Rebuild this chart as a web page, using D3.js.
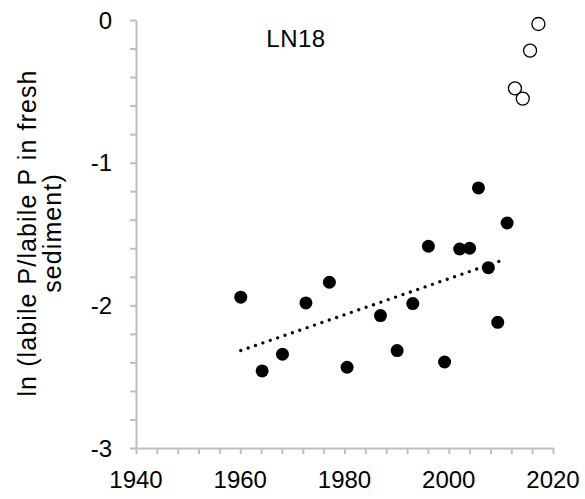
<!DOCTYPE html>
<html>
<head>
<meta charset="utf-8">
<script src="https://cdn.jsdelivr.net/npm/d3@7"></script>
<style>
  html, body { margin: 0; padding: 0; background: #fff; }
  svg { display: block; font-family: "Liberation Sans", Arial, sans-serif; }
</style>
</head>
<body>
<svg id="chart" width="585" height="499"></svg>
<script>
// ---- data ----
const filledYears  = [1960.1, 1964.2, 1968.1, 1972.6, 1977.1, 1980.5, 1986.9, 1990.1, 1993.1, 1996.1, 1999.2, 2002.1, 2004.0, 2005.7, 2007.6, 2009.4, 2011.2];
const filledValues = [-1.943, -2.460, -2.343, -1.983, -1.838, -2.434, -2.072, -2.317, -1.988, -1.586, -2.397, -1.605, -1.600, -1.177, -1.736, -2.119, -1.423];
const openYears    = [2012.7, 2014.2, 2015.6, 2017.2];
const openValues   = [-0.479, -0.551, -0.215, -0.028];
const trendYears   = [1960.1, 2009.7];
const trendValues  = [-2.317, -1.691];
const xTickLabels  = [1940, 1960, 1980, 2000, 2020];
const yTickLabels  = [0, -1, -2, -3];
const title = "LN18";
const yTitleLines = ["ln (labile P/labile P in fresh", "sediment)"];

// ---- layout ----
const svg = d3.select("#chart");
const x = d3.scaleLinear().domain([1940, 2020]).range([136, 553]);
const y = d3.scaleLinear().domain([-3, 0]).range([448, 20]);
const axisColor = "#bfbfbf";

// minor ticks (every 4 years / 0.2 units)
const xMinor = d3.range(1940, 2020.001, 4);
const yMinor = d3.range(0, 15.5, 1).map(i => -3 + i * 0.2);

const gx = svg.append("g").attr("transform", `translate(0,${y(-3)})`)
  .call(d3.axisBottom(x).tickValues(xMinor).tickSize(6).tickSizeOuter(0).tickFormat(""));
const gy = svg.append("g").attr("transform", `translate(${x(1940)},0)`)
  .call(d3.axisLeft(y).tickValues(yMinor).tickSize(6).tickSizeOuter(0).tickFormat(""));
[gx, gy].forEach(g => {
  g.select(".domain").attr("stroke", axisColor).attr("stroke-width", 2);
  g.selectAll(".tick line").attr("stroke", axisColor).attr("stroke-width", 2);
});

// tick labels
svg.append("g").selectAll("text").data(xTickLabels).join("text")
  .attr("x", d => x(d)).attr("y", 488)
  .attr("text-anchor", "middle").attr("font-size", 24).attr("fill", "#000")
  .text(d => d);
svg.append("g").selectAll("text").data(yTickLabels).join("text")
  .attr("x", 112).attr("y", d => y(d)).attr("dy", "0.36em")
  .attr("text-anchor", "end").attr("font-size", 24).attr("fill", "#000")
  .text(d => d === 0 ? "0" : "-" + Math.abs(d));

// y title
const yt = svg.append("text")
  .attr("transform", `translate(0,233) rotate(-90)`)
  .attr("text-anchor", "middle").attr("font-size", 25).attr("letter-spacing", 1.1).attr("fill", "#000");
yTitleLines.forEach((t, i) => {
  yt.append("tspan").attr("x", 0).attr("y", 36 + i * 25).text(t);
});

// chart title
svg.append("text").attr("x", 296).attr("y", 47).attr("text-anchor", "middle")
  .attr("font-size", 24).attr("letter-spacing", 0.5).attr("fill", "#000").text(title);

// trend line (dotted)
const line = d3.line().x(d => x(d[0])).y(d => y(d[1]));
svg.append("path")
  .attr("d", line(d3.zip(trendYears, trendValues)))
  .attr("fill", "none").attr("stroke", "#000").attr("stroke-width", 3.4)
  .attr("stroke-linecap", "round").attr("stroke-dasharray", "0 7.8");

// points
svg.append("g").selectAll("circle").data(d3.zip(filledYears, filledValues)).join("circle")
  .attr("cx", d => x(d[0])).attr("cy", d => y(d[1])).attr("r", 6.5).attr("fill", "#000");
svg.append("g").selectAll("circle").data(d3.zip(openYears, openValues)).join("circle")
  .attr("cx", d => x(d[0])).attr("cy", d => y(d[1])).attr("r", 6.5)
  .attr("fill", "#fff").attr("stroke", "#000").attr("stroke-width", 1.3);
</script>
</body>
</html>
